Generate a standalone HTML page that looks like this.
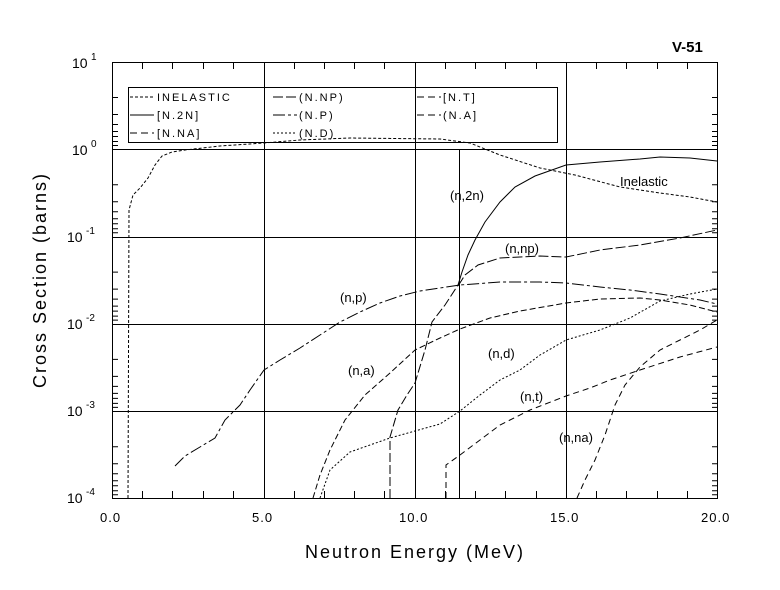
<!DOCTYPE html>
<html><head><style>body{margin:0;background:#fff}svg{display:block}text{font-family:"Liberation Sans",sans-serif;fill:#000}</style></head>
<body>
<svg width="780" height="590" viewBox="0 0 780 590" xmlns="http://www.w3.org/2000/svg">
<g stroke="#000" stroke-width="1" fill="none">
<rect x="112.5" y="62.5" width="605" height="436"/>
<line x1="112" y1="149.5" x2="717" y2="149.5"/>
<line x1="112" y1="237.5" x2="717" y2="237.5"/>
<line x1="112" y1="324.5" x2="717" y2="324.5"/>
<line x1="112" y1="411.5" x2="717" y2="411.5"/>
<line x1="264.5" y1="62" x2="264.5" y2="498"/>
<line x1="415.5" y1="62" x2="415.5" y2="498"/>
<line x1="566.5" y1="62" x2="566.5" y2="498"/>
<line x1="459.5" y1="149" x2="459.5" y2="498"/>
<path d="M142.5 498v-7M172.5 498v-7M203.5 498v-7M233.5 498v-7M294.5 498v-7M324.5 498v-7M354.5 498v-7M384.5 498v-7M445.5 498v-7M475.5 498v-7M505.5 498v-7M536.5 498v-7M596.5 498v-7M626.5 498v-7M657.5 498v-7M687.5 498v-7
M142.5 62v7M172.5 62v7M203.5 62v7M233.5 62v7M294.5 62v7M324.5 62v7M354.5 62v7M384.5 62v7M445.5 62v7M475.5 62v7M505.5 62v7M536.5 62v7M596.5 62v7M626.5 62v7M657.5 62v7M687.5 62v7"/>
<g>
<path d="M112 97.5h6M112 114.5h6M112 124.5h6M112 131.5h6M112 136.5h6M112 141.5h6M112 145.5h6 M712 97.5h5M712 114.5h5M712 124.5h5M712 131.5h5M712 136.5h5M712 141.5h5M712 145.5h5"/>
<path transform="translate(0,87.3)" d="M112 97.5h6M112 114.5h6M112 124.5h6M112 131.5h6M112 136.5h6M112 141.5h6M112 145.5h6 M712 97.5h5M712 114.5h5M712 124.5h5M712 131.5h5M712 136.5h5M712 141.5h5M712 145.5h5"/>
<path transform="translate(0,174.6)" d="M112 97.5h6M112 114.5h6M112 124.5h6M112 131.5h6M112 136.5h6M112 141.5h6M112 145.5h6 M712 97.5h5M712 114.5h5M712 124.5h5M712 131.5h5M712 136.5h5M712 141.5h5M712 145.5h5"/>
<path transform="translate(0,261.9)" d="M112 97.5h6M112 114.5h6M112 124.5h6M112 131.5h6M112 136.5h6M112 141.5h6M112 145.5h6 M712 97.5h5M712 114.5h5M712 124.5h5M712 131.5h5M712 136.5h5M712 141.5h5M712 145.5h5"/>
<path transform="translate(0,349.2)" d="M112 97.5h6M112 114.5h6M112 124.5h6M112 131.5h6M112 136.5h6M112 141.5h6M112 145.5h6 M712 97.5h5M712 114.5h5M712 124.5h5M712 131.5h5M712 136.5h5M712 141.5h5M712 145.5h5"/>
</g>
<!-- legend -->
<rect x="128.5" y="87.5" width="429" height="55"/>
<path stroke-dasharray="3,2" d="M130 97h24"/>
<path d="M130 115h24"/>
<path stroke-dasharray="7,4" d="M130 133h24"/>
<path stroke-dasharray="10,3" d="M273 97h24"/>
<path stroke-dasharray="12,3,3,3" d="M273 115h24"/>
<path stroke-dasharray="2,2" d="M273 133h24"/>
<path stroke-dasharray="7,4" d="M417 97h24"/>
<path stroke-dasharray="7,4" d="M417 115h24"/>
<!-- curves -->
<path stroke-dasharray="3,2" d="M128 498L129 210L133 195L140 188L148 178L155 165L162 156L172 152L185 150L220 146L264 143L300 140L350 138L440 139L470 143L500 155L540 168L575 175L620 187L660 193L690 197L717 202"/>
<path stroke-dasharray="9,3" d="M390 498L390 437L398 410L407 395L415 383L425 350L432 322L445 305L458 285"/>
<path d="M458 285L462 272L468 255L475 240L485 222L500 202L515 187L535 176L566 165L600 162L640 159L660 157L690 158L717 161"/>
<path stroke-dasharray="10,3" d="M458 286L465 275L478 265L500 258L540 256L566 257L600 250L640 245L680 238L717 230"/>
<path stroke-dasharray="12,3,3,3" d="M175 466L185 456L200 447L215 438L225 420L240 405L250 390L264 370L280 360L300 348L320 335L340 322L360 312L380 303L400 296L420 291L440 288L460 285L500 282L540 282L566 283L600 287L630 290L660 294L700 300L717 304"/>
<path stroke-dasharray="6,3" d="M313 498L320 475L330 450L345 420L365 395L390 373L415 350L440 338L460 329L490 318L520 311L566 303L600 299L640 298L660 300L690 305L717 312"/>
<path stroke-dasharray="2,2" d="M320 498L330 470L350 452L390 438L415 431L440 424L460 411L480 395L500 380L520 370L540 355L566 340L600 330L630 318L660 301L690 294L717 289"/>
<path stroke-dasharray="6,4" d="M446 498L446 465L460 455L480 440L500 425L530 410L566 396L590 388L610 380L640 370L680 357L717 347"/>
<path stroke-dasharray="6,4" d="M577 498L585 480L595 460L605 435L615 405L625 385L640 367L660 350L680 340L700 330L717 320"/>
</g>
<g font-size="11" letter-spacing="2">
<text x="157" y="101">INELASTIC</text>
<text x="157" y="119">[N.2N]</text>
<text x="157" y="137">[N.NA]</text>
<text x="299" y="101">(N.NP)</text>
<text x="299" y="119">(N.P)</text>
<text x="299" y="137">(N.D)</text>
<text x="443" y="101">[N.T]</text>
<text x="443" y="119">(N.A]</text>
</g>
<g font-size="13">
<text x="620" y="186">Inelastic</text>
<text x="450" y="200">(n,2n)</text>
<text x="505" y="253">(n,np)</text>
<text x="340" y="302">(n,p)</text>
<text x="488" y="358">(n,d)</text>
<text x="348" y="375">(n,a)</text>
<text x="520" y="401">(n,t)</text>
<text x="559" y="442">(n,na)</text>
</g>
<text x="672" y="52" font-size="15" font-weight="bold">V-51</text>
<g font-size="13" letter-spacing="1">
<text x="100" y="522">0.0</text>
<text x="252" y="522">5.0</text>
<text x="399" y="522">10.0</text>
<text x="550" y="522">15.0</text>
<text x="701" y="522">20.0</text>
</g>
<g font-size="14">
<text x="72" y="68">10</text><text x="91" y="60" font-size="10">1</text>
<text x="72" y="155">10</text><text x="91" y="147" font-size="10">0</text>
<text x="67" y="242">10</text><text x="86" y="234" font-size="10">-1</text>
<text x="67" y="329">10</text><text x="86" y="321" font-size="10">-2</text>
<text x="67" y="416">10</text><text x="86" y="408" font-size="10">-3</text>
<text x="67" y="503">10</text><text x="86" y="495" font-size="10">-4</text>
</g>
<text x="415" y="558" font-size="18" text-anchor="middle" letter-spacing="2">Neutron Energy (MeV)</text>
<text transform="translate(46,280) rotate(-90)" font-size="18" text-anchor="middle" letter-spacing="2">Cross Section (barns)</text>
</svg>
</body></html>
